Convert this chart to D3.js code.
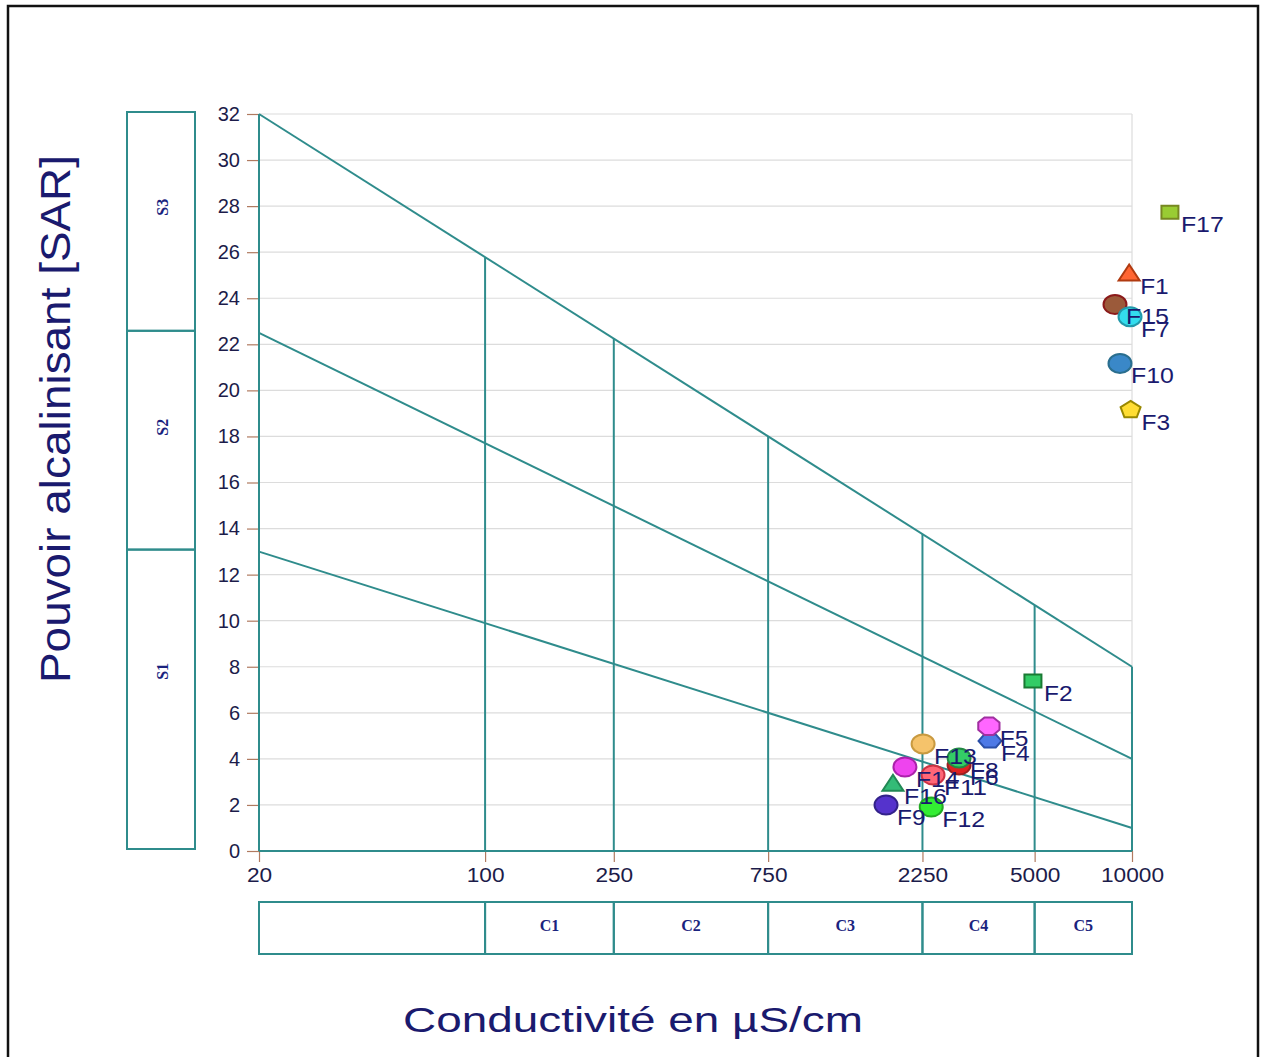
<!DOCTYPE html>
<html><head><meta charset="utf-8">
<script src="https://cdn.jsdelivr.net/npm/d3@7"></script>
<style>body{margin:0;background:#fff}svg{display:block}</style>
</head><body>
<svg id="c" width="1261" height="1057"></svg>
<script>
// ---- data ----
const samples      = ["F1","F2","F3","F4","F5","F6","F7","F8","F9","F10","F11","F12","F13","F14","F15","F16","F17"];
const conductivity = [9800,4940,9900,3640,3610,2920,9860,2920,1736,9180,2426,2395,2260,1986,8860,1824,13100];
const sarValues    = [25.05,7.38,19.15,4.78,5.42,3.73,23.2,4.04,2.0,21.17,3.3,1.91,4.65,3.65,23.73,2.9,27.73];
const shapes       = ["triangle","square","pentagon","hexflat","hexpoint","circle","circle","circle","circle","circle","circle","circle","circle","circle","circle","triangle","square"];
const fills        = ["#ff6633","#33cc66","#ffdd33","#4d79e6","#ff66ff","#dd2222","#33ddee","#33cc66","#5533cc","#3a88c8","#ff6677","#33ee33","#f5c36b","#ee44ee","#9b5a3a","#33bb77","#99cc33"];
const strokes      = ["#b03a10","#1a7a33","#998800","#2a4fa8","#a030a0","#992222","#2299aa","#228844","#33228a","#2a6e8e","#cc3344","#22aa22","#c99a40","#aa22aa","#8b1a1a","#228855","#778822"];
const drawOrder    = ["F1","F2","F3","F4","F5","F13","F14","F6","F8","F11","F16","F9","F12","F15","F7","F10","F17"];

const xTicks = [20,100,250,750,2250,5000,10000];
const yTicks = [0,2,4,6,8,10,12,14,16,18,20,22,24,26,28,30,32];
const lineStartSAR = [13,22.5,32];   // SAR at 20 µS/cm
const lineEndSAR   = [1,4,8];        // SAR at 10000 µS/cm
const sClasses = ["S1","S2","S3"];
const sBounds  = [0,13,22.5,32];
const cClasses = ["","C1","C2","C3","C4","C5"];

// ---- layout ----
const svg = d3.select("#c");
const teal = "#2f8c8c", navy = "#1a1a6e", tickCol = "#1c1c4a", grid = "#dcdcdc", brown = "#b07a60";
const x = d3.scaleLog().domain([20,10000]).range([259,1132]);
const y = d3.scaleLinear().domain([0,32]).range([851,114]);
const font = "'Liberation Sans', Arial, sans-serif";

// outer frame
svg.append("rect").attr("x",8).attr("y",6).attr("width",1250).attr("height",1060)
  .attr("fill","none").attr("stroke","#111").attr("stroke-width",2.5);

// horizontal grid
svg.append("g").selectAll("line").data(yTicks.filter(d=>d>0)).join("line")
  .attr("x1",x(20)).attr("x2",x(10000)).attr("y1",d=>y(d)).attr("y2",d=>y(d))
  .attr("stroke",grid).attr("stroke-width",1.2);
svg.append("line").attr("x1",x(10000)).attr("x2",x(10000)).attr("y1",y(32)).attr("y2",y(0))
  .attr("stroke",grid).attr("stroke-width",1.2);

// y axis ticks & labels
const yAxis = d3.axisLeft(y).tickValues(yTicks).tickSize(12).tickPadding(7).tickFormat(d3.format("d"));
const gy = svg.append("g").attr("transform",`translate(${x(20)},0)`).call(yAxis);
gy.select(".domain").remove();
gy.selectAll(".tick line").attr("stroke",brown).attr("stroke-width",1.2);
gy.selectAll(".tick text").attr("fill",tickCol).attr("font-size",20).attr("font-family",font);

const xAxis = d3.axisBottom(x).tickValues(xTicks).tickSize(11).tickPadding(6).tickFormat(d3.format("d"));
const gx = svg.append("g").attr("transform",`translate(0,${y(0)})`).call(xAxis);
gx.select(".domain").remove();
gx.selectAll(".tick line").attr("stroke",brown).attr("stroke-width",1.2);
gx.selectAll(".tick text").attr("fill",tickCol).attr("font-size",20).attr("font-family",font)
  .attr("textLength",function(d){return String(d).length*12.6;}).attr("lengthAdjust","spacingAndGlyphs");

// class lines (straight in log-x)
const lx0 = Math.log10(20), lx1 = Math.log10(10000);
function lineAt(i, c){ const t=(Math.log10(c)-lx0)/(lx1-lx0); return lineStartSAR[i]+t*(lineEndSAR[i]-lineStartSAR[i]); }
const lg = svg.append("g").attr("stroke",teal).attr("stroke-width",2).attr("fill","none");
lineStartSAR.forEach((s,i)=>{
  lg.append("line").attr("x1",x(20)).attr("y1",y(s)).attr("x2",x(10000)).attr("y2",y(lineEndSAR[i]));
});
// vertical dividers up to top line
xTicks.forEach(c=>{
  const top = c===20 ? 32 : lineAt(2,c);
  lg.append("line").attr("x1",x(c)).attr("x2",x(c)).attr("y1",y(0)).attr("y2",y(top));
});
lg.append("line").attr("x1",x(20)).attr("x2",x(10000)).attr("y1",y(0)).attr("y2",y(0));

// S boxes
const sg = svg.append("g");
sClasses.forEach((s,i)=>{
  const yt = y(sBounds[i+1])-2, yb = y(sBounds[i])-2;
  sg.append("rect").attr("x",127).attr("y",yt).attr("width",68).attr("height",yb-yt)
    .attr("fill","none").attr("stroke",teal).attr("stroke-width",2);
});
const sLabelPos = [7.8,18.4,27.95];
sClasses.forEach((s,i)=>{
  sg.append("text").attr("transform",`translate(168,${y(sLabelPos[i])}) rotate(-90)`)
    .attr("text-anchor","middle").attr("font-family","'Liberation Serif', serif").attr("font-weight","bold")
    .attr("font-size",16).attr("fill","#1a237e").text(s);
});

// C boxes
const cg = svg.append("g");
for(let i=0;i<xTicks.length-1;i++){
  cg.append("rect").attr("x",x(xTicks[i])).attr("y",902).attr("width",x(xTicks[i+1])-x(xTicks[i])).attr("height",52)
    .attr("fill","none").attr("stroke",teal).attr("stroke-width",2);
  cg.append("text").attr("x",(x(xTicks[i])+x(xTicks[i+1]))/2).attr("y",931).attr("text-anchor","middle")
    .attr("font-family","'Liberation Serif', serif").attr("font-weight","bold").attr("font-size",16)
    .attr("fill","#1a237e").text(cClasses[i]);
}

// axis titles
svg.append("text").attr("x",633).attr("y",1032).attr("text-anchor","middle").attr("font-family",font)
  .attr("font-size",35).attr("fill",navy).attr("textLength",460).attr("lengthAdjust","spacingAndGlyphs")
  .text("Conductivité en µS/cm");
svg.append("text").attr("transform","translate(70,419) rotate(-90)").attr("text-anchor","middle").attr("font-family",font)
  .attr("font-size",43).attr("fill",navy).attr("textLength",528).attr("lengthAdjust","spacingAndGlyphs")
  .text("Pouvoir alcalinisant [SAR]");

// markers
const pts = samples.map((n,i)=>({name:n,c:conductivity[i],s:sarValues[i],shape:shapes[i],fill:fills[i],stroke:strokes[i]}));
const byName = new Map(pts.map(p=>[p.name,p]));
function poly(n, rot){ const a=[]; for(let k=0;k<n;k++){const t=rot+2*Math.PI*k/n; a.push([Math.cos(t),Math.sin(t)]);} return a; }
function shapePath(sh){
  let p;
  if(sh==="triangle") p=[[0,-9.5],[10.5,6.5],[-10.5,6.5]];
  else if(sh==="square") p=[[-8.5,-6.5],[8.5,-6.5],[8.5,6.5],[-8.5,6.5]];
  else if(sh==="pentagon") p=poly(5,-Math.PI/2).map(([a,b])=>[a*10.5,b*9]);
  else if(sh==="hexflat") p=poly(6,0).map(([a,b])=>[a*11.5,b*7.5]);
  else if(sh==="hexpoint") p=poly(8,Math.PI/8).map(([a,b])=>[a*11.5,b*9.5]);
  return "M"+p.map(q=>q.join(",")).join("L")+"Z";
}
const mg = svg.append("g");
drawOrder.forEach(n=>{
  const p = byName.get(n);
  const cx = x(p.c), cy = y(p.s);
  if(p.shape==="circle"){
    mg.append("ellipse").attr("cx",cx).attr("cy",cy).attr("rx",11.5).attr("ry",9.5)
      .attr("fill",p.fill).attr("stroke",p.stroke).attr("stroke-width",2);
  } else {
    mg.append("path").attr("d",shapePath(p.shape)).attr("transform",`translate(${cx},${cy})`)
      .attr("fill",p.fill).attr("stroke",p.stroke).attr("stroke-width",2);
  }
});
// labels
svg.append("g").selectAll("text").data(pts).join("text")
  .attr("x",d=>x(d.c)+11).attr("y",d=>y(d.s)+20)
  .attr("font-family",font).attr("font-size",22).attr("fill",navy)
  .attr("textLength",d=>d.name.length*14.3).attr("lengthAdjust","spacingAndGlyphs")
  .text(d=>d.name);
</script>
</body></html>
